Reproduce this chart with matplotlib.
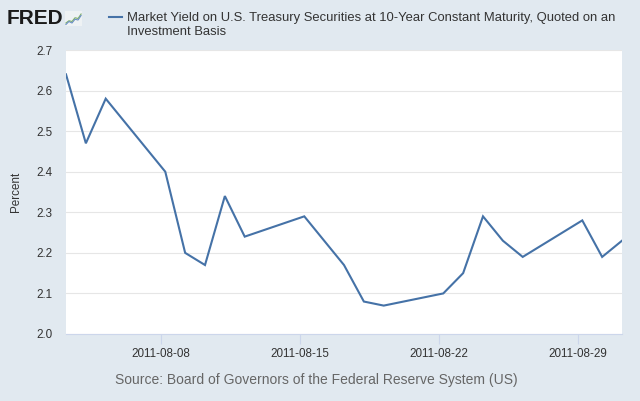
import matplotlib
matplotlib.use("Agg")
import matplotlib.pyplot as plt
import pandas as pd

plt.rcParams['font.family'] = ['Liberation Sans', 'DejaVu Sans']

# ---- data ----
dates = ["2011-08-03", "2011-08-04", "2011-08-05", "2011-08-08", "2011-08-09",
         "2011-08-10", "2011-08-11", "2011-08-12", "2011-08-15", "2011-08-16",
         "2011-08-17", "2011-08-18", "2011-08-19", "2011-08-22", "2011-08-23",
         "2011-08-24", "2011-08-25", "2011-08-26", "2011-08-29", "2011-08-30",
         "2011-08-31"]
values = [2.64, 2.47, 2.58, 2.40, 2.20,
          2.17, 2.34, 2.24, 2.29, 2.23,
          2.17, 2.08, 2.07, 2.10, 2.15,
          2.29, 2.23, 2.19, 2.28, 2.19,
          2.23]
x_tick_labels = ["2011-08-08", "2011-08-15", "2011-08-22", "2011-08-29"]
y_ticks = [2.0, 2.1, 2.2, 2.3, 2.4, 2.5, 2.6, 2.7]
series_name = ("Market Yield on U.S. Treasury Securities at 10-Year Constant Maturity, Quoted on an\n"
               "Investment Basis")
y_label = "Percent"
source = "Source: Board of Governors of the Federal Reserve System (US)"

BG = "#e1e9f0"
LINE = "#4572a7"

x = pd.to_datetime(dates)

fig = plt.figure(figsize=(6.4, 4.01), dpi=100, facecolor=BG)
ax = fig.add_axes([66/640, 1-334/401, (622-66)/640, (334-50)/401])
ax.set_facecolor("white")

ax.plot(x, values, color=LINE, lw=1.5, solid_joinstyle="miter")

ax.set_xlim(x[0], x[-1])
ax.set_ylim(2.0, 2.7)
ax.set_yticks(y_ticks)
ax.set_yticklabels([f"{v:.1f}" for v in y_ticks])
ax.yaxis.grid(True, color="#e6e6e6", lw=0.8)
ax.set_axisbelow(True)

# Highcharts places day ticks a few hours before the data points
tick_pos = pd.to_datetime(x_tick_labels) - pd.Timedelta(hours=5)
ax.set_xticks(tick_pos)
ax.set_xticklabels(x_tick_labels)

for s in ["top", "right", "left"]:
    ax.spines[s].set_visible(False)
ax.spines["bottom"].set_color("#ccd6eb")
ax.spines["bottom"].set_linewidth(0.8)

ax.tick_params(axis="x", colors="#ccd6eb", length=7, width=0.8, labelcolor="#333333",
               labelsize=8.4, pad=3)
ax.tick_params(axis="y", length=0, labelcolor="#333333", labelsize=8.4, pad=10)

ax.set_ylabel(y_label, fontsize=8.4, color="#333333")
ax.yaxis.set_label_coords(-0.08, 0.5)

# header: logo + legend
fig.text(7/640, 1-18.5/401, "FRED", fontsize=15, fontweight="bold", color="#1a1a1a",
         va="center", ha="left")
logo_ax = fig.add_axes([65/640, 1-26/401, 17/640, 15/401])
logo_ax.set_facecolor("#eef2f4")
logo_x = [0, 1, 2, 3, 4, 5]
logo_g = [0.2, 0.35, 0.3, 0.55, 0.5, 0.8]
logo_b = [0.1, 0.3, 0.2, 0.45, 0.4, 0.7]
logo_ax.plot(logo_x, logo_g, color="#7fb069", lw=0.8)
logo_ax.plot(logo_x, logo_b, color="#6a8fc4", lw=0.8)
logo_ax.set_xlim(-0.3, 5.3)
logo_ax.set_ylim(0, 1)
logo_ax.set_xticks([]); logo_ax.set_yticks([])
for s in logo_ax.spines.values():
    s.set_visible(False)

fig.lines.append(plt.Line2D([109/640, 122/640], [1-17/401, 1-17/401],
                            transform=fig.transFigure, color=LINE, lw=1.5))
fig.text(127/640, 1-12.5/401, series_name, fontsize=9.4, color="#333333",
         va="top", ha="left", linespacing=1.2)

fig.text(316/640, 1-380/401, source, fontsize=10, color="#666666",
         ha="center", va="center")

fig.savefig("out.png", dpi=100, facecolor=BG)
